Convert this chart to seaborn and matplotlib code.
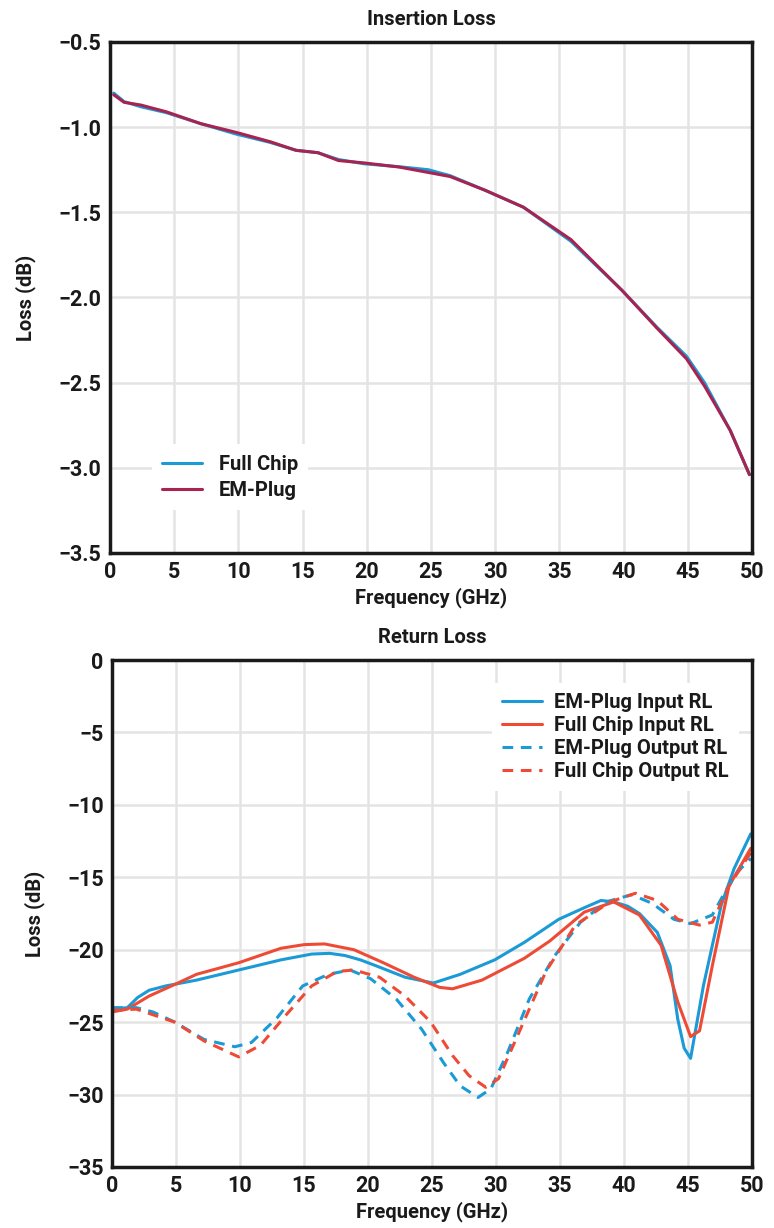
import numpy as np
import pandas as pd
import matplotlib
matplotlib.use("Agg")
import matplotlib.pyplot as plt
import seaborn as sns

# ---------------- Insertion loss data ----------------
il_freq = [0.3, 1.1, 2.4, 4.4, 7.1, 9.8, 12.5, 14.5, 16.2, 17.8, 19.8, 22.5,
           24.8, 26.5, 29.2, 32.2, 35.9, 39.9, 42.6, 44.9, 46.3, 48.3, 49.8]
il_full_chip = [-0.80, -0.850, -0.880, -0.915, -0.980, -1.040, -1.090, -1.136,
                -1.150, -1.190, -1.215, -1.232, -1.250, -1.285, -1.370, -1.470,
                -1.670, -1.960, -2.175, -2.345, -2.500, -2.780, -3.040]
il_em_plug = [-0.81, -0.854, -0.870, -0.910, -0.980, -1.030, -1.086, -1.136,
              -1.150, -1.196, -1.210, -1.234, -1.266, -1.290, -1.370, -1.470,
              -1.660, -1.960, -2.180, -2.360, -2.520, -2.780, -3.040]

# ---------------- Return loss data ----------------
rl_em_in_f = [0, 1.2, 2.0, 2.9, 4.2, 6.6, 9.9, 13.2, 15.6, 17.0, 18.2, 19.4,
              20.6, 22.9, 25.1, 27.2, 29.9, 32.2, 34.9, 36.9, 38.2, 39.2, 40.3,
              41.2, 42.6, 43.6, 44.2, 44.7, 45.2, 46.2, 47.6, 48.6, 49.9]
rl_em_in = [-24.1, -24.0, -23.3, -22.8, -22.5, -22.1, -21.4, -20.7, -20.3,
            -20.25, -20.4, -20.7, -21.1, -21.9, -22.3, -21.7, -20.7, -19.5,
            -17.9, -17.1, -16.6, -16.7, -17.0, -17.5, -18.8, -21.1, -24.8,
            -26.8, -27.5, -22.5, -16.9, -14.4, -12.0]

rl_fc_in_f = [0, 1.2, 2.9, 4.9, 6.6, 9.9, 13.2, 15.0, 16.6, 18.9, 21.2, 23.6,
              25.6, 26.6, 28.9, 32.2, 34.2, 36.9, 39.2, 41.2, 42.9, 44.2, 45.2,
              45.9, 46.9, 48.2, 49.9]
rl_fc_in = [-24.3, -24.1, -23.2, -22.4, -21.7, -20.9, -19.9, -19.65, -19.6,
            -20.0, -20.9, -21.9, -22.6, -22.7, -22.1, -20.6, -19.4, -17.4,
            -16.7, -17.6, -19.7, -23.6, -26.0, -25.6, -21.1, -15.6, -13.0]

rl_em_out_f = [0, 1.9, 3.2, 4.9, 7.2, 9.6, 10.9, 12.9, 14.9, 16.9, 18.6, 20.2,
               22.2, 24.2, 25.9, 27.2, 28.6, 29.6, 30.9, 32.6, 34.6, 36.6, 38.6,
               40.6, 42.2, 43.9, 45.2, 46.9, 47.9, 48.9, 49.9]
rl_em_out = [-24.0, -24.0, -24.3, -25.0, -26.2, -26.7, -26.4, -24.7, -22.5,
             -21.7, -21.4, -22.0, -23.4, -25.5, -27.8, -29.4, -30.2, -29.6,
             -27.1, -23.4, -20.4, -18.1, -16.7, -16.2, -16.8, -17.9, -18.2,
             -17.6, -16.0, -14.6, -13.7]

rl_fc_out_f = [0, 1.9, 4.9, 7.2, 9.9, 11.6, 13.6, 15.6, 17.6, 18.9, 20.9, 22.9,
               24.9, 26.6, 27.9, 29.2, 30.2, 31.9, 33.9, 36.2, 38.9, 40.9, 42.6,
               44.2, 45.9, 46.9, 48.2, 49.9]
rl_fc_out = [-24.2, -24.1, -25.0, -26.3, -27.4, -26.6, -24.5, -22.5, -21.5,
             -21.4, -21.9, -23.2, -25.0, -27.3, -28.7, -29.5, -28.9, -25.5,
             -21.5, -18.3, -16.7, -16.1, -16.6, -17.9, -18.3, -18.1, -15.6,
             -13.3]

x_ticks = [0, 5, 10, 15, 20, 25, 30, 35, 40, 45, 50]
il_yticks = [-0.5, -1.0, -1.5, -2.0, -2.5, -3.0, -3.5]
rl_yticks = [0, -5, -10, -15, -20, -25, -30, -35]

BLUE = "#1B9AD6"
MAROON = "#A8234F"
RED = "#EE4B36"

sns.set_style("whitegrid", {"grid.color": "#e4e4e4", "axes.edgecolor": "#1a1a1a"})
plt.rcParams["font.family"] = ["Roboto", "DejaVu Sans"]
plt.rcParams["font.weight"] = "bold"

fig = plt.figure(figsize=(7.74, 12.28), dpi=100)
ax1 = fig.add_axes([0.142, 0.5497, 0.8296, 0.4161])
ax2 = fig.add_axes([0.1447, 0.0497, 0.8269, 0.4128])

sns.lineplot(x=il_freq, y=il_full_chip, ax=ax1, color=BLUE, lw=2.2, label="Full Chip")
sns.lineplot(x=il_freq, y=il_em_plug, ax=ax1, color=MAROON, lw=2.2, label="EM-Plug")

sns.lineplot(x=rl_em_in_f, y=rl_em_in, ax=ax2, color=BLUE, lw=2.2, label="EM-Plug Input RL")
sns.lineplot(x=rl_fc_in_f, y=rl_fc_in, ax=ax2, color=RED, lw=2.2, label="Full Chip Input RL")
sns.lineplot(x=rl_em_out_f, y=rl_em_out, ax=ax2, color=BLUE, lw=2.2,
             label="EM-Plug Output RL")
sns.lineplot(x=rl_fc_out_f, y=rl_fc_out, ax=ax2, color=RED, lw=2.2,
             label="Full Chip Output RL")
for ln in ax2.get_lines()[2:]:
    ln.set_linestyle((0, (3.5, 2.5)))
for ln in ax1.get_lines() + ax2.get_lines():
    ln.set_solid_joinstyle("round")
    ln.set_dash_joinstyle("round")

for ax, yt, title, ylim in [(ax1, il_yticks, "Insertion Loss", (-3.5, -0.5)),
                            (ax2, rl_yticks, "Return Loss", (-35, 0))]:
    ax.set_xlim(0, 50)
    ax.set_ylim(*ylim)
    ax.set_xticks(x_ticks)
    ax.set_yticks(yt)
    if ax is ax1:
        ax.set_yticklabels([f"{v:.1f}".replace("-", "\u2212") for v in yt])
    else:
        ax.set_yticklabels([f"{v:d}".replace("-", "\u2212") for v in yt])
    ax.tick_params(axis="both", labelsize=15.5, length=0, pad=6, labelcolor="#1a1a1a")
    for lab in ax.get_xticklabels() + ax.get_yticklabels():
        lab.set_fontweight("bold")
    ax.grid(True, color="#e4e4e4", lw=1.8)
    for sp in ax.spines.values():
        sp.set_linewidth(2.5)
        sp.set_color("#1a1a1a")
    ax.set_title(title, fontsize=14.5, fontweight="bold", pad=12, color="#1a1a1a")
    ax.set_xlabel("Frequency (GHz)", fontsize=14.5, fontweight="bold", labelpad=3,
                  color="#1a1a1a")
    ax.set_ylabel("Loss (dB)", fontsize=14.5, fontweight="bold", labelpad=16,
                  color="#1a1a1a")

leg1 = ax1.legend(loc="lower left", bbox_to_anchor=(0.05, 0.065), frameon=True,
                  facecolor="white", edgecolor="none", framealpha=1,
                  fontsize=14.5, handlelength=2.0, handletextpad=0.8,
                  borderpad=0.5, labelspacing=0.35)
leg2 = ax2.legend(loc="upper right", bbox_to_anchor=(0.995, 0.975), frameon=True,
                  facecolor="white", edgecolor="none", framealpha=1,
                  fontsize=14.5, handlelength=2.0, handletextpad=0.6,
                  borderpad=0.5, labelspacing=0.2)
for leg in (leg1, leg2):
    for t in leg.get_texts():
        t.set_fontweight("bold")
        t.set_color("#1a1a1a")

fig.savefig("out.png", dpi=100)
